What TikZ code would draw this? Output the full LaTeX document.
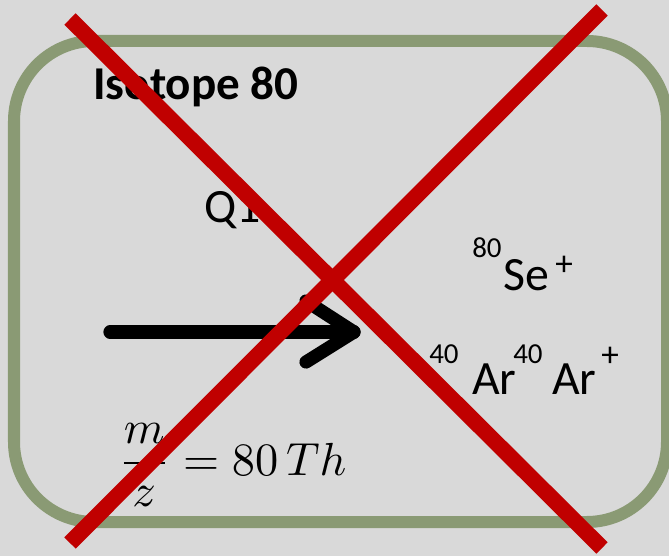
\documentclass[tikz,border=0pt]{standalone}
\usepackage{fontspec}
\setmainfont{Carlito}
\usepackage{amsmath}
\usepackage{graphicx}
\usepackage{tikz}
\usetikzlibrary{positioning}

\definecolor{slidegray}{HTML}{D9D9D9}
\definecolor{framegreen}{HTML}{8A9A74}
\definecolor{crossred}{HTML}{C00000}

\begin{document}
\begin{tikzpicture}[
    x=0.025cm, y=-0.025cm,
    frame/.style={draw=framegreen, line width=0.3cm, rounded corners=2cm},
    title/.style={anchor=base west, inner sep=0pt, font=\fontsize{33.5}{40}\selectfont\bfseries},
    label/.style={anchor=base west, inner sep=0pt, font=\fontsize{34}{40}\selectfont},
    isotope/.style={anchor=base west, inner sep=0pt, font=\fontsize{20.6}{24}\selectfont},
    charge/.style={anchor=base west, inner sep=0pt, font=\fontsize{25}{30}\selectfont},
    beam/.style={draw=black, line width=0.33cm, line cap=round, line join=round},
    cross/.style={draw=crossred, line width=0.4cm}
]

% Background and frame
\fill[slidegray] (0,0) rectangle (669,556);
\useasboundingbox (0,0) rectangle (669,556);
\draw[frame] (14,41) rectangle (667,522);

% Labels
\node[title] (iso) at (93,100) {Isotope 80};
\node[label] (q1) at (204,223) {Q1};

% Ions
\node[isotope] (se80)   at (472,258) {80};
\node[label]   (se)     at (503,290) {Se};
\node[charge]  (seplus) at (555,276) {+};
\node[isotope] (ar40a)  at (429,363) {40};
\node[label]   (ara)    at (472,394) {Ar};
\node[isotope] (ar40b)  at (513,363) {40};
\node[label]   (arb)    at (552,394) {Ar};
\node[charge]  (arplus) at (601,366) {+};

% Mass filter ratio
\node[anchor=base west, inner sep=0pt, font=\fontsize{10}{12}\selectfont] (ratio) at (118,475)
    {\scalebox{3.3}{$\displaystyle\frac{m}{z} = 80\,Th$}};

% Ion beam
\coordinate (beamtail) at (110,332);
\coordinate (beamhead) at (354,332);
\draw[beam] (beamtail) -- (beamhead);
\draw[beam] (beamhead) ++(-48,-31) -- (beamhead) -- ++(-48,30);

% Cross
\draw[cross] (70,19) -- (602,548);
\draw[cross] (602,10) -- (70,543);

\end{tikzpicture}
\end{document}
